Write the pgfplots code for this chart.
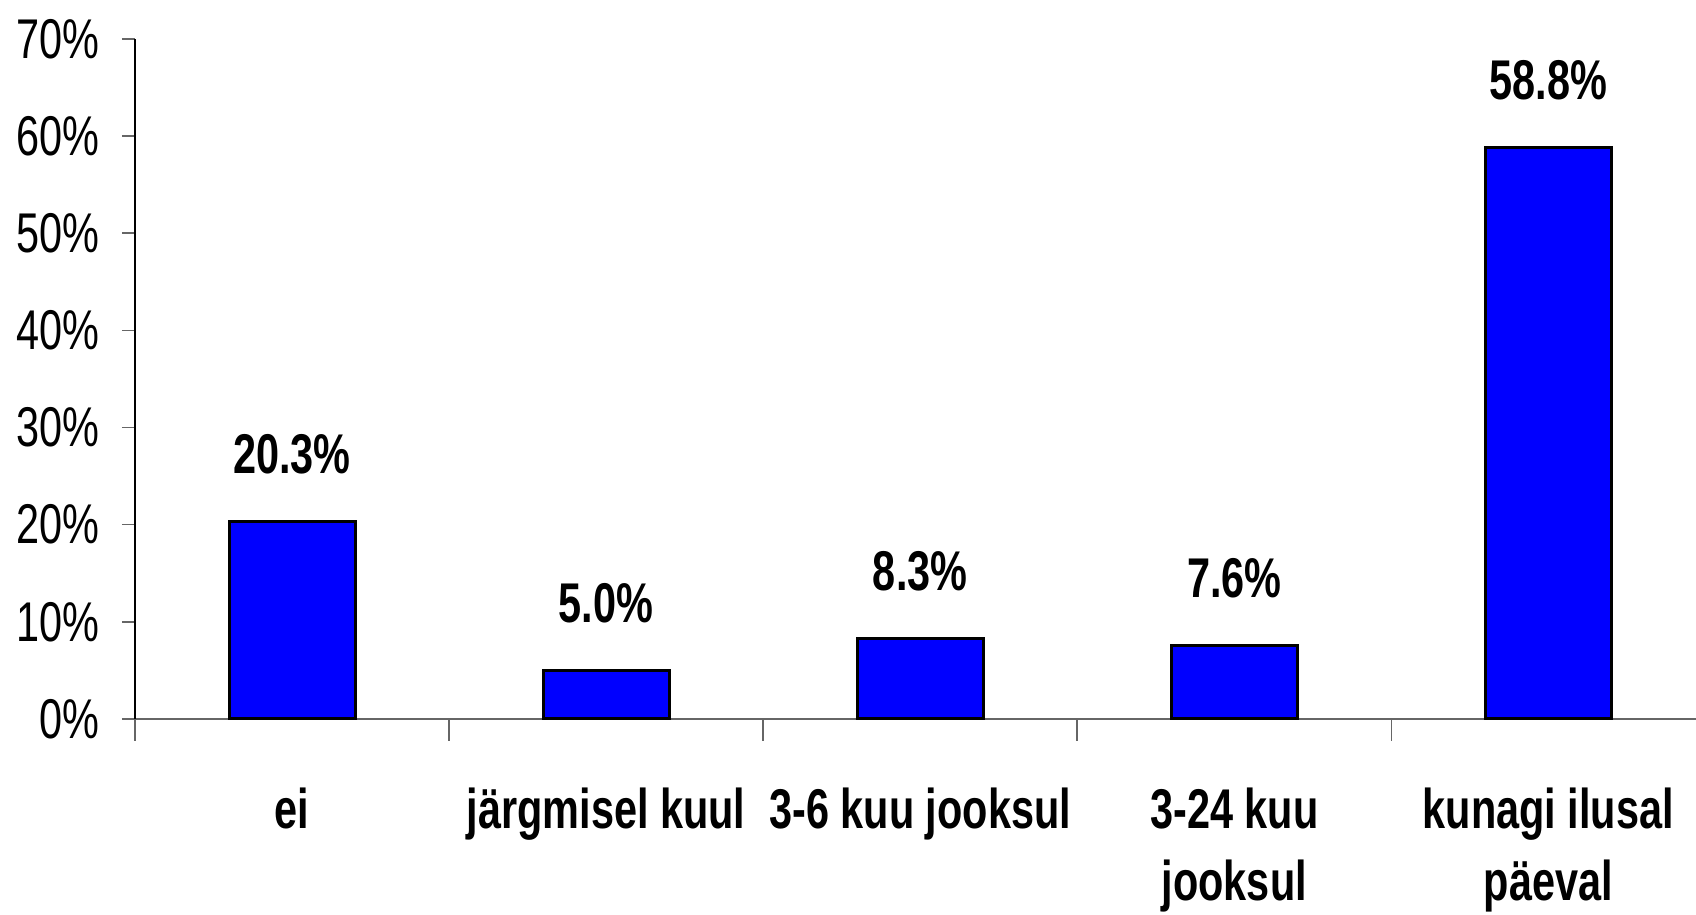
\documentclass[border=0pt]{standalone}
\usepackage{fontspec}
\setmainfont{Liberation Sans}[FakeStretch=0.74]
\usepackage{pgfplots}
\pgfplotsset{compat=1.18}
\definecolor{barblue}{RGB}{0,0,255}
\begin{document}
\begin{tikzpicture}
\begin{axis}[
  name=ax,
  scale only axis,
  width=780.5pt, height=340pt,
  xmin=-0.5, xmax=4.47,
  ymin=0, ymax=70,
  axis x line=bottom, axis y line=left,
  x axis line style={-, draw=gray!80!black, line width=0.8pt},
  y axis line style={-, draw=black, line width=0.8pt},
  tick align=outside,
  xtick={0,1,2,3,4},
  major x tick style={draw=none},
  minor xtick={-0.5,0.5,1.5,2.5,3.5},
  minor x tick style={draw=gray!80!black, line width=0.8pt},
  minor tick length=11pt,
  xticklabels={ei, järgmisel kuul, 3-6 kuu jooksul, 3-24 kuu\\[1pt]jooksul, kunagi ilusal\\[1pt]päeval},
  xticklabel style={font=\fontsize{28}{35}\selectfont\bfseries, align=center, anchor=north, yshift=-24.5pt},
  ytick={0,10,...,70},
  major y tick style={draw=gray!80!black, line width=0.8pt},
  major tick length=6.5pt,
  yticklabel={\pgfmathprintnumber{\tick}\%},
  yticklabel style={font=\fontsize{28}{34}\selectfont, inner sep=0pt, xshift=-11pt},
  /pgf/number format/assume math mode=true,
  ybar, bar width=63pt,
  nodes near coords={\pgfmathprintnumber[fixed,fixed zerofill,precision=1]{\pgfplotspointmeta}\%},
  every node near coord/.style={font=\fontsize{28}{34}\selectfont\bfseries, anchor=base, yshift=24pt},
  clip=false,
]
\addplot[fill=barblue, draw=black, line width=1.5pt] coordinates {
  (0,20.3) (1,5.0) (2,8.3) (3,7.6) (4,58.8)
};
\end{axis}
\pgfresetboundingbox
\path[use as bounding box] ([xshift=-67.5pt,yshift=-98pt]ax.south west) rectangle ([yshift=19.5pt]ax.north east);
\end{tikzpicture}
\end{document}
